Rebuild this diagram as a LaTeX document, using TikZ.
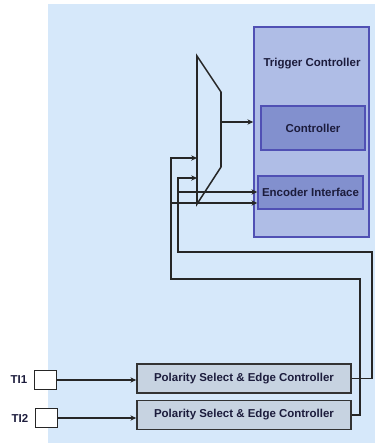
\documentclass[tikz,border=0pt]{standalone}
\usepackage{fontspec}
\setmainfont{Liberation Sans}
\usetikzlibrary{positioning, backgrounds, calc, arrows.meta}

\definecolor{bgblue}{HTML}{D6E8FA}
\definecolor{tcfill}{HTML}{AFBDE6}
\definecolor{tcedge}{HTML}{5050B4}
\definecolor{subfill}{HTML}{8290CE}
\definecolor{polfill}{HTML}{C7D3E1}
\definecolor{txtdark}{HTML}{1C1C3C}

\begin{document}
\begin{tikzpicture}[
    x=0.03cm, y=-0.03cm,
    font=\fontsize{9.8}{11}\selectfont\bfseries,
    % bloques del controlador de disparo
    tcblock/.style={
        rectangle,
        draw=tcedge,
        fill=tcfill,
        line width=1.2pt,
        inner sep=0pt,
        minimum width=3.45cm,
        minimum height=6.3cm
    },
    subblock/.style={
        rectangle,
        draw=tcedge,
        fill=subfill,
        line width=1.2pt,
        inner sep=0pt,
        text=txtdark
    },
    polblock/.style={
        rectangle,
        draw=black!80,
        fill=polfill,
        line width=1.3pt,
        minimum width=6.42cm,
        minimum height=0.86cm,
        inner sep=0pt,
        text=txtdark
    },
    pinbox/.style={
        rectangle,
        draw=black!85,
        fill=white,
        line width=1.1pt,
        minimum width=0.67cm,
        minimum height=0.58cm,
        inner sep=0pt
    },
    wire/.style={line width=1pt, draw=black!85},
    arr/.style={-{Stealth[length=5pt, width=4.5pt]}, line width=1pt, draw=black!85}
]
    \useasboundingbox (0,0) rectangle (375,443);

    % --- FONDO ---
    \path[fill=bgblue] (48,4) rectangle (375,443);

    % --- TRIGGER CONTROLLER ---
    \node[tcblock] (tc) at (311.5,132) {};
    \node[text=txtdark] (tclabel) at (312,64) {Trigger Controller};
    \node[subblock, minimum width=3.12cm, minimum height=1.32cm] (ctrl) at (313,128) {Controller};
    \node[subblock, minimum width=3.15cm, minimum height=0.99cm] (enc) at (310.5,192.5) {Encoder Interface};

    % --- MULTIPLEXOR ---
    \coordinate (m1) at (197,56);
    \coordinate (m2) at (221,92);
    \coordinate (m3) at (221,167);
    \coordinate (m4) at (197,204);
    \draw[wire, line width=1.3pt] (m1) -- (m2) -- (m3) -- (m4) -- cycle;
    \coordinate (mout) at (221,122);
    \coordinate (min1) at (197,158);
    \coordinate (min2) at (197,178);

    % --- ENTRADAS ---
    \node[polblock] (pol1) at (244,378.5) {Polarity Select \& Edge Controller};
    \node[polblock] (pol2) at (244,415) {Polarity Select \& Edge Controller};
    \node[pinbox, label={[text=txtdark, label distance=2pt]left:TI1}] (ti1) at (45.5,380) {};
    \node[pinbox, label={[text=txtdark, label distance=2pt]left:TI2}] (ti2) at (46.5,418) {};

    % --- CONEXIONES ---
    \draw[arr] (ti1) -- (ti1 -| pol1.west);
    \draw[arr] (ti2) -- (ti2 -| pol2.west);
    \draw[arr] (mout) -- (mout -| tc.west);

    \coordinate (ra) at (360,279);
    \coordinate (la) at (171,279);
    \coordinate (ea) at (171,203);
    \draw[arr] (pol2.east) -| (ra) -- (la) |- (min1);
    \draw[arr] (ea) -- (ea -| enc.west);

    \coordinate (rb) at (372,252);
    \coordinate (lb) at (178,252);
    \coordinate (eb) at (178,192);
    \draw[arr] (pol1.east) -| (rb) -- (lb) |- (min2);
    \draw[arr] (eb) -- (eb -| enc.west);
\end{tikzpicture}
\end{document}
